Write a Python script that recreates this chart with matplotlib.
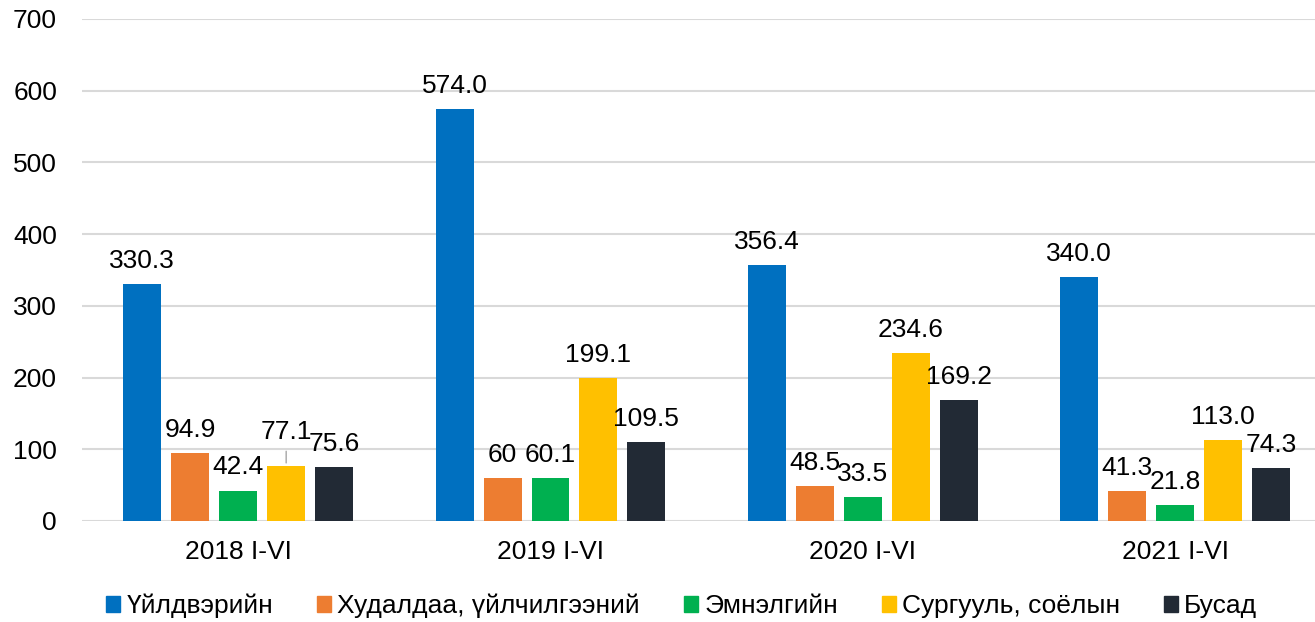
import numpy as np
import matplotlib.pyplot as plt
from matplotlib.patches import Patch

# Data
periods = ['2018 I-VI', '2019 I-VI', '2020 I-VI', '2021 I-VI']
series_names = ['Үйлдвэрийн', 'Худалдаа, үйлчилгээний', 'Эмнэлгийн', 'Сургууль, соёлын', 'Бусад']
uildver = [330.3, 574.0, 356.4, 340.0]
hudaldaa = [94.9, 60, 48.5, 41.3]
emneleg = [42.4, 60.1, 33.5, 21.8]
surguuli = [77.1, 199.1, 234.6, 113.0]
busad = [75.6, 109.5, 169.2, 74.3]
label_texts = [
    ['330.3', '574.0', '356.4', '340.0'],
    ['94.9', '60', '48.5', '41.3'],
    ['42.4', '60.1', '33.5', '21.8'],
    ['77.1', '199.1', '234.6', '113.0'],
    ['75.6', '109.5', '169.2', '74.3'],
]
colors = ['#0070C0', '#ED7D31', '#00B050', '#FFC000', '#222A35']

plt.rcParams['font.family'] = ['Liberation Sans', 'DejaVu Sans']
fs = 19

fig = plt.figure(figsize=(13.15, 6.22), dpi=100)
ax = fig.add_axes([0.0624, 0.1624, 0.9376, 0.8071])

x = np.arange(len(periods))
width = 0.1216
pitch = 0.1536
all_series = [uildver, hudaldaa, emneleg, surguuli, busad]
for i, vals in enumerate(all_series):
    pos = x + (i - 2) * pitch
    ax.bar(pos, vals, width, color=colors[i], zorder=3)
    for j, v in enumerate(vals):
        if i == 3 and j == 0:
            # label moved up with leader line
            ax.annotate('', xy=(pos[j], v), xytext=(pos[j], v + 24),
                        arrowprops=dict(arrowstyle='-', color='#A6A6A6', lw=1), zorder=4)
            ax.annotate(label_texts[i][j], (pos[j], v + 24), xytext=(0, 3),
                        textcoords='offset points', ha='center', va='bottom', fontsize=fs)
            continue
        ax.annotate(label_texts[i][j], (pos[j], v), xytext=(0, 8),
                    textcoords='offset points', ha='center', va='bottom', fontsize=fs)

ax.set_ylim(0, 700)
ax.set_yticks(range(0, 701, 100))
ax.set_xlim(-0.5, 3.448)
ax.set_xticks(x)
ax.set_xticklabels(periods)
ax.tick_params(axis='both', length=0, labelsize=fs)
ax.tick_params(axis='y', pad=18)
ax.tick_params(axis='x', pad=14)
ax.grid(axis='y', color='#D9D9D9', lw=1.5, zorder=0)
for s in ax.spines.values():
    s.set_visible(False)

handles = [Patch(color=c) for c in colors]
fig.legend(handles, series_names, loc='center', bbox_to_anchor=(0.5186, 0.026),
           ncol=5, frameon=False, fontsize=fs, handlelength=0.53, handleheight=0.53,
           handletextpad=0.23, columnspacing=1.67)

fig.savefig('out.png', dpi=100)
